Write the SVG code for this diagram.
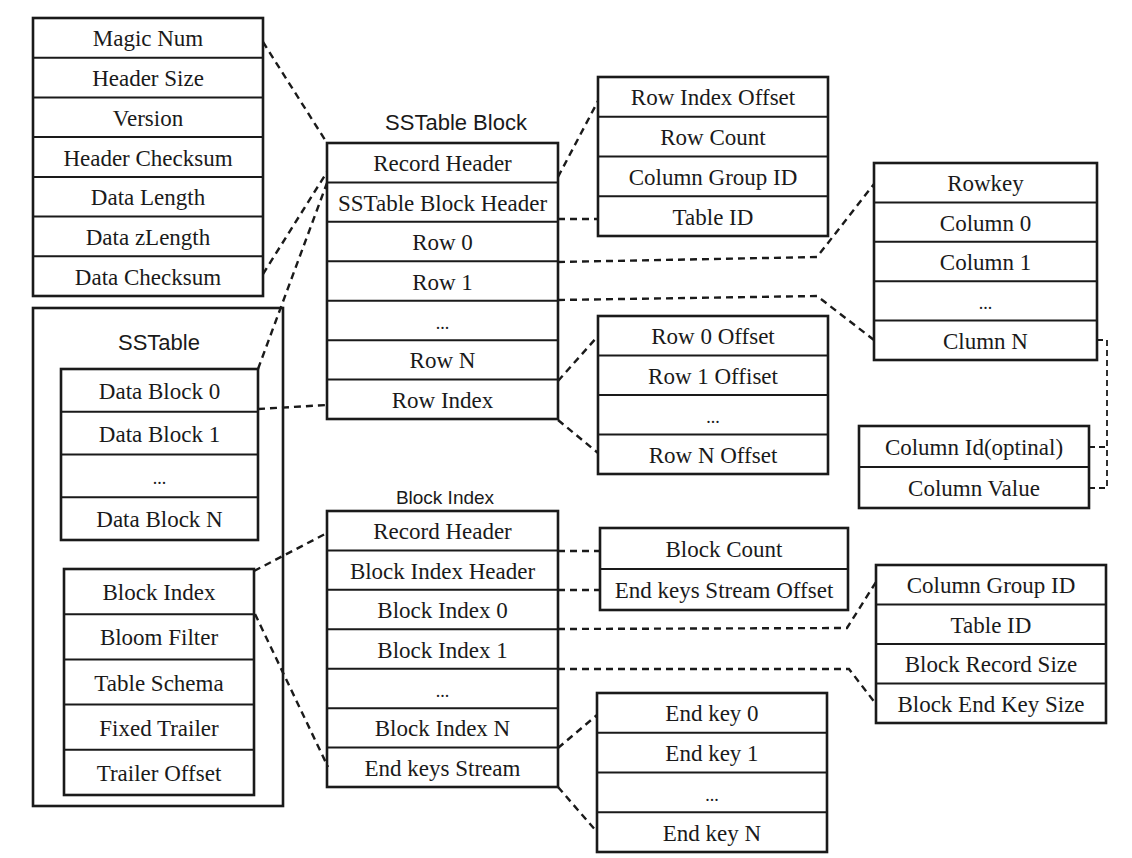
<svg xmlns="http://www.w3.org/2000/svg" width="1132" height="858" viewBox="0 0 1132 858">
<style>
.box{fill:#fff;stroke:#1a1a1a;stroke-width:2.6}
.sep{stroke:#1a1a1a;stroke-width:2}
.t{font-family:"Liberation Serif","Times New Roman",serif;font-size:23px;fill:#1a1a1a;text-anchor:middle}
.dots{font-family:"Liberation Serif","Times New Roman",serif;font-size:18px;fill:#1a1a1a;text-anchor:middle}
.title{font-family:"Liberation Sans",Arial,sans-serif;font-size:22px;fill:#1a1a1a;text-anchor:middle}
.dash{fill:none;stroke:#1a1a1a;stroke-width:2.4;stroke-dasharray:7 5}
.dash2{fill:none;stroke:#1a1a1a;stroke-width:1.8;stroke-dasharray:6 4}
</style>
<rect width="1132" height="858" fill="#fff"/>

<g id="record-header-fields">
<rect class="box" x="33" y="18" width="230" height="278"/>
<path class="sep" d="M33 57.7H263M33 97.4H263M33 137.1H263M33 176.9H263M33 216.6H263M33 256.3H263"/>
<text class="t" x="148" y="46.4">Magic Num</text>
<text class="t" x="148" y="86.1">Header Size</text>
<text class="t" x="148" y="125.8">Version</text>
<text class="t" x="148" y="165.5">Header Checksum</text>
<text class="t" x="148" y="205.2">Data Length</text>
<text class="t" x="148" y="244.9">Data zLength</text>
<text class="t" x="148" y="284.6">Data Checksum</text>
</g>

<g id="sstable">
<rect class="box" x="33" y="308" width="250" height="498"/>
<text class="title" x="159" y="350">SSTable</text>
<g id="sstable-data-blocks">
<rect class="box" x="61" y="369" width="197" height="171"/>
<path class="sep" d="M61 411.75H258M61 454.5H258M61 497.25H258"/>
<text class="t" x="159.5" y="398.9">Data Block 0</text>
<text class="t" x="159.5" y="441.6">Data Block 1</text>
<text class="dots" x="159.5" y="484.4">...</text>
<text class="t" x="159.5" y="527.1">Data Block N</text>
</g>
<g id="sstable-meta">
<rect class="box" x="64" y="569" width="190" height="226"/>
<path class="sep" d="M64 614.2H254M64 659.4H254M64 704.6H254M64 749.8H254"/>
<text class="t" x="159" y="600.1">Block Index</text>
<text class="t" x="159" y="645.3">Bloom Filter</text>
<text class="t" x="159" y="690.5">Table Schema</text>
<text class="t" x="159" y="735.7">Fixed Trailer</text>
<text class="t" x="159" y="780.9">Trailer Offset</text>
</g>
</g>

<g id="sstable-block">
<text class="title" x="456" y="130">SSTable Block</text>
<rect class="box" x="327" y="143" width="231" height="276"/>
<path class="sep" d="M327 182.43H558M327 221.86H558M327 261.29H558M327 300.71H558M327 340.14H558M327 379.57H558"/>
<text class="t" x="442.5" y="171.2">Record Header</text>
<text class="t" x="442.5" y="210.6">SSTable Block Header</text>
<text class="t" x="442.5" y="250.1">Row 0</text>
<text class="t" x="442.5" y="289.5">Row 1</text>
<text class="dots" x="442.5" y="328.9">...</text>
<text class="t" x="442.5" y="368.4">Row N</text>
<text class="t" x="442.5" y="407.8">Row Index</text>
</g>

<g id="block-header-fields">
<rect class="box" x="598" y="77" width="230" height="159"/>
<path class="sep" d="M598 116.75H828M598 156.5H828M598 196.25H828"/>
<text class="t" x="713" y="105.4">Row Index Offset</text>
<text class="t" x="713" y="145.1">Row Count</text>
<text class="t" x="713" y="184.9">Column Group ID</text>
<text class="t" x="713" y="224.6">Table ID</text>
</g>

<g id="row-offsets">
<rect class="box" x="598" y="316" width="230" height="158"/>
<path class="sep" d="M598 355.5H828M598 395H828M598 434.5H828"/>
<text class="t" x="713" y="344.3">Row 0 Offset</text>
<text class="t" x="713" y="383.8">Row 1 Offiset</text>
<text class="dots" x="713" y="423.3">...</text>
<text class="t" x="713" y="462.8">Row N Offset</text>
</g>

<g id="row-fields">
<rect class="box" x="874" y="163" width="223" height="197"/>
<path class="sep" d="M874 202.4H1097M874 241.8H1097M874 281.2H1097M874 320.6H1097"/>
<text class="t" x="985.5" y="191.2">Rowkey</text>
<text class="t" x="985.5" y="230.6">Column 0</text>
<text class="t" x="985.5" y="270">Column 1</text>
<text class="dots" x="985.5" y="309.4">...</text>
<text class="t" x="985.5" y="348.8">Clumn N</text>
</g>

<g id="column-fields">
<rect class="box" x="859" y="426" width="230" height="82"/>
<path class="sep" d="M859 467H1089"/>
<text class="t" x="974" y="455">Column Id(optinal)</text>
<text class="t" x="974" y="496">Column Value</text>
</g>

<g id="block-index">
<text class="title" x="445" y="504" style="font-size:19px">Block Index</text>
<rect class="box" x="327" y="511" width="231" height="276"/>
<path class="sep" d="M327 550.43H558M327 589.86H558M327 629.29H558M327 668.71H558M327 708.14H558M327 747.57H558"/>
<text class="t" x="442.5" y="539.2">Record Header</text>
<text class="t" x="442.5" y="578.6">Block Index Header</text>
<text class="t" x="442.5" y="618.1">Block Index 0</text>
<text class="t" x="442.5" y="657.5">Block Index 1</text>
<text class="dots" x="442.5" y="696.9">...</text>
<text class="t" x="442.5" y="736.4">Block Index N</text>
<text class="t" x="442.5" y="775.8">End keys Stream</text>
</g>

<g id="block-index-header-fields">
<rect class="box" x="600" y="528" width="248" height="82"/>
<path class="sep" d="M600 569H848"/>
<text class="t" x="724" y="557">Block Count</text>
<text class="t" x="724" y="598">End keys Stream Offset</text>
</g>

<g id="block-index-entry-fields">
<rect class="box" x="876" y="565" width="230" height="158"/>
<path class="sep" d="M876 604.5H1106M876 644H1106M876 683.5H1106"/>
<text class="t" x="991" y="593.3">Column Group ID</text>
<text class="t" x="991" y="632.8">Table ID</text>
<text class="t" x="991" y="672.3">Block Record Size</text>
<text class="t" x="991" y="711.8">Block End Key Size</text>
</g>

<g id="end-keys">
<rect class="box" x="597" y="693" width="230" height="159"/>
<path class="sep" d="M597 732.75H827M597 772.5H827M597 812.25H827"/>
<text class="t" x="712" y="721.4">End key 0</text>
<text class="t" x="712" y="761.1">End key 1</text>
<text class="dots" x="712" y="800.9">...</text>
<text class="t" x="712" y="840.6">End key N</text>
</g>

<g id="connectors">
<path class="dash" d="M263 42L327 143"/>
<path class="dash" d="M263 274L327 172"/>
<path class="dash" d="M258 369L327 183"/>
<path class="dash" d="M258 409L327 405"/>
<path class="dash" d="M558 177L598 101"/>
<path class="dash" d="M558 219H598"/>
<path class="dash" d="M558 262L817 257L874 184"/>
<path class="dash" d="M558 300L817 296L874 340"/>
<path class="dash" d="M558 381L598 336"/>
<path class="dash" d="M558 420L598 453"/>
<path class="dash2" d="M1097 340H1107V488H1089M1089 447H1107"/>
<path class="dash" d="M254 571L327 533"/>
<path class="dash" d="M255 614L328 767"/>
<path class="dash" d="M558 551H600"/>
<path class="dash" d="M558 590H600"/>
<path class="dash" d="M558 629L847 628L876 582"/>
<path class="dash" d="M558 669L849 669L876 704"/>
<path class="dash" d="M558 748L597 715"/>
<path class="dash" d="M558 787L597 832"/>
</g>
</svg>
